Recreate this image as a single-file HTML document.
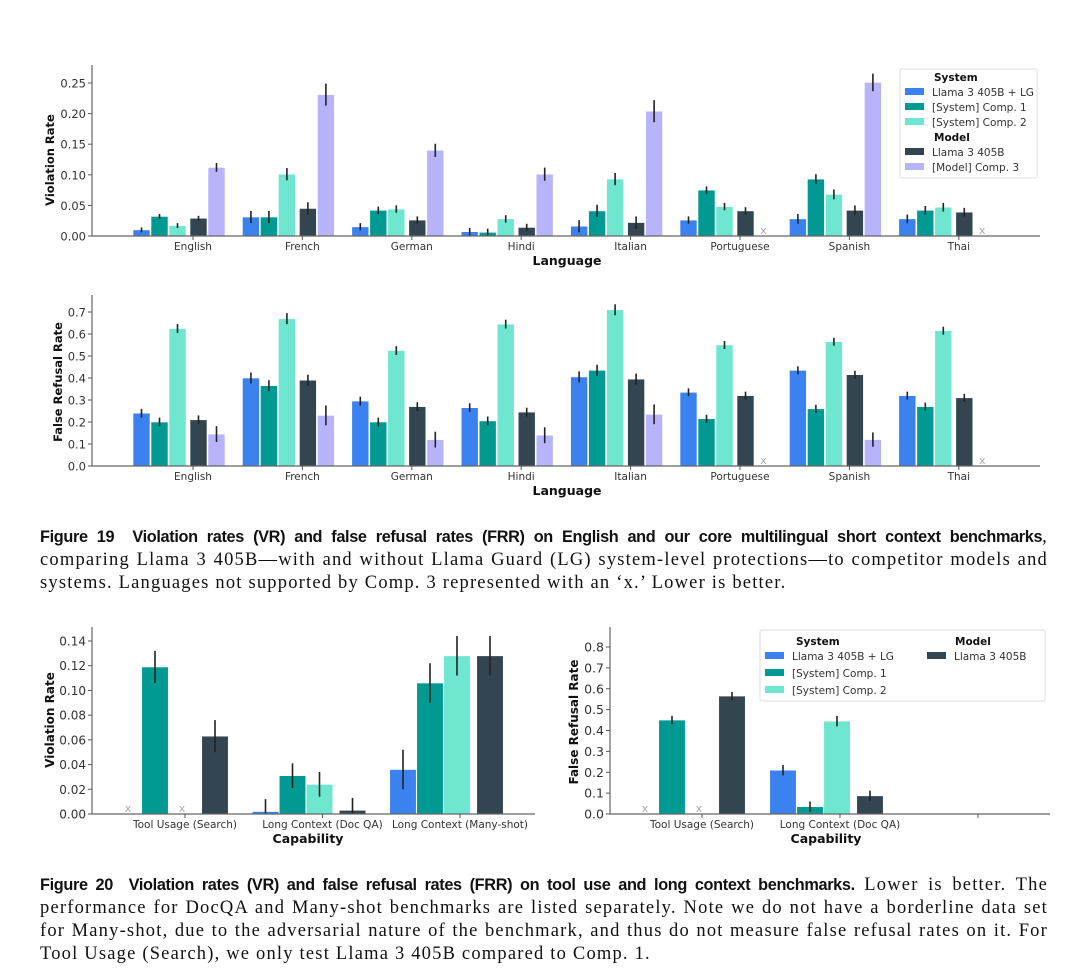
<!DOCTYPE html>
<html><head><meta charset="utf-8">
<style>
html,body{margin:0;padding:0;background:#fff;}
body{width:1080px;height:979px;position:relative;overflow:hidden;}
svg{position:absolute;left:0;top:0;}
.cap{position:absolute;left:40px;width:1008px;font-family:"Liberation Serif",serif;font-size:18.5px;line-height:23px;color:#111;letter-spacing:1.2px;}
.cap div{text-align:justify;text-align-last:justify;white-space:nowrap;overflow:visible;}
.cap div.last{text-align-last:left;}
.cap b{font-family:"Liberation Sans",sans-serif;font-size:16.3px;letter-spacing:-0.35px;}
</style></head>
<body>
<svg id="chart" width="1080" height="979"></svg>
<div class="cap" style="top:526px">
<div><b>Figure 19&nbsp; Violation rates (VR) and false refusal rates (FRR) on English and our core multilingual short context benchmarks</b>,</div>
<div>comparing Llama 3 405B—with and without Llama Guard (LG) system-level protections—to competitor models and</div>
<div class="last">systems. Languages not supported by Comp. 3 represented with an ‘x.’ Lower is better.</div>
</div>
<div class="cap" style="top:874px">
<div><b>Figure 20&nbsp; Violation rates (VR) and false refusal rates (FRR) on tool use and long context benchmarks.</b> Lower is better. The</div>
<div>performance for DocQA and Many-shot benchmarks are listed separately. Note we do not have a borderline data set</div>
<div>for Many-shot, due to the adversarial nature of the benchmark, and thus do not measure false refusal rates on it. For</div>
<div class="last">Tool Usage (Search), we only test Llama 3 405B compared to Comp. 1.</div>
</div>
<script>
const languages=["English","French","German","Hindi","Italian","Portuguese","Spanish","Thai"];
const seriesNames=["Llama 3 405B + LG","[System] Comp. 1","[System] Comp. 2","Llama 3 405B","[Model] Comp. 3"];
const colors=["#3b82f0","#009a93","#6ee6d0","#334550","#b8b4fc"];
const vrLG=[0.010,0.031,0.015,0.007,0.016,0.026,0.028,0.028];
const vrC1=[0.032,0.031,0.042,0.006,0.041,0.075,0.093,0.042];
const vrC2=[0.017,0.101,0.044,0.028,0.093,0.048,0.068,0.047];
const vrL3=[0.029,0.045,0.026,0.014,0.022,0.041,0.042,0.039];
const vrC3=[0.112,0.231,0.140,0.101,0.204,null,0.251,null];
const vrErr=[0.004,0.010,0.006,0.006,0.010,0.006,0.008,0.007];
const frrLG=[0.24,0.40,0.295,0.265,0.405,0.335,0.435,0.32];
const frrC1=[0.20,0.365,0.20,0.205,0.435,0.215,0.26,0.27];
const frrC2=[0.625,0.67,0.525,0.645,0.71,0.55,0.565,0.615];
const frrL3=[0.21,0.39,0.27,0.245,0.395,0.32,0.415,0.31];
const frrC3=[0.145,0.23,0.12,0.14,0.235,null,0.12,null];
const frrErr=[0.02,0.025,0.02,0.02,0.025,0.018,0.018,0.018];
const vrTicks=["0.00","0.05","0.10","0.15","0.20","0.25"];
const frrTicks=["0.0","0.1","0.2","0.3","0.4","0.5","0.6","0.7"];
const capabilities=["Tool Usage (Search)","Long Context (Doc QA)","Long Context (Many-shot)"];
const capVrLG=[null,0.002,0.036];
const capVrC1=[0.119,0.031,0.106];
const capVrC2=[null,0.024,0.128];
const capVrL3=[0.063,0.003,0.128];
const capVrErr=[0.013,0.01,0.016];
const capFrrCats=["Tool Usage (Search)","Long Context (Doc QA)",""];
const capFrrLG=[null,0.21,null];
const capFrrC1=[0.45,0.035,null];
const capFrrC2=[null,0.445,null];
const capFrrL3=[0.565,0.087,null];
const capFrrErr=[0.02,0.025,0];
const capVrTicks=["0.00","0.02","0.04","0.06","0.08","0.10","0.12","0.14"];
const capFrrTicks=["0.0","0.1","0.2","0.3","0.4","0.5","0.6","0.7","0.8"];

const NS="http://www.w3.org/2000/svg";
const svg=document.getElementById('chart');
function mk(tag,attrs,parent,text){const e=document.createElementNS(NS,tag);for(const k in attrs)e.setAttribute(k,attrs[k]);if(text!==undefined)e.textContent=text;(parent||svg).appendChild(e);return e;}

function chart(c){
  const g=mk('g',{});
  
  
  const y=v=>c.y0-(v/c.vmax)*(c.y0-c.yTop);
  const x=i=>c.x0+i*c.step;
  c.ticks.forEach(t=>{const v=parseFloat(t);const yy=y(v);
    mk('line',{x1:c.left-4,x2:c.left,y1:yy,y2:yy,stroke:'#555','stroke-width':1},g);
    const tx=mk('text',{x:c.left-6,y:yy+4.5,'text-anchor':'end','font-size':c.fs,fill:'#333','font-family':'DejaVu Sans, sans-serif'},g,t);
    
    
  });
  c.series.forEach((vals,s)=>{vals.forEach((v,i)=>{
    const cx=x(i)+c.offs[s];
    if(v===null){
      if(c.xmark&&c.xmark[s]&&c.cats[i]!==''){const xm=mk('text',{x:cx,y:c.y0-2,'text-anchor':'middle','font-size':11,fill:'#aaa','font-family':'DejaVu Sans, sans-serif'},g,'x');
        
        }
      return;}
    const r=mk('rect',{x:cx-c.bw/2,y:y(v),width:c.bw,height:c.y0-y(v),fill:colors[s],stroke:'#fff','stroke-width':0.6},g);
    
    
    const e=c.err[i]*(s===4?1.8:1);
    mk('line',{x1:cx,x2:cx,y1:y(v+e),y2:Math.min(c.y0,y(Math.max(0,v-e))),stroke:'#222','stroke-width':1.6},g);
  });});
  mk('line',{x1:c.left,x2:c.left,y1:c.axTop,y2:c.y0,stroke:'#666','stroke-width':1.2},g);
  mk('line',{x1:c.left,x2:c.right,y1:c.y0,y2:c.y0,stroke:'#666','stroke-width':1.2},g);
  c.cats.forEach((cat,i)=>{
    mk('line',{x1:x(i),x2:x(i),y1:c.y0,y2:c.y0+4,stroke:'#555'},g);
    const t=mk('text',{x:x(i),y:c.y0+14,'text-anchor':'middle','font-size':c.xfs,fill:'#333','font-family':'DejaVu Sans, sans-serif'},g,cat);
    
    
  });
  const xt=mk('text',{x:c.xlx,y:c.xly,'text-anchor':'middle','font-size':12.5,'font-weight':'bold',fill:'#111','font-family':'DejaVu Sans, sans-serif'},g,c.xlabel);
  
  
  const yt=mk('text',{x:0,y:0,'text-anchor':'middle','font-size':c.yfs,'font-weight':'bold',fill:'#111','font-family':'DejaVu Sans, sans-serif',transform:`translate(${c.ylx},${c.yly}) rotate(-90)`},g,c.ylabel);
  
  
}
const langOffs=[-51.5,-33.5,-15.5,5.5,23.5];
chart({name:'vr-language-chart',left:92,right:1040,axTop:65,y0:236,yTop:83,vmax:0.25,x0:193,step:109.4,bw:17,offs:langOffs,
  series:[vrLG,vrC1,vrC2,vrL3,vrC3],err:vrErr,cats:languages,ticks:vrTicks,xmark:[0,0,0,0,1],fs:11.5,xfs:10.5,yfs:11.5,
  xlabel:'Language',xlx:567,xly:265,ylabel:'Violation Rate',ylx:54,yly:160});
chart({name:'frr-language-chart',left:92,right:1040,axTop:295,y0:466,yTop:312,vmax:0.7,x0:193,step:109.4,bw:17,offs:langOffs,
  series:[frrLG,frrC1,frrC2,frrL3,frrC3],err:frrErr,cats:languages,ticks:frrTicks,xmark:[0,0,0,0,1],fs:11.5,xfs:10.5,yfs:11.5,
  xlabel:'Language',xlx:567,xly:495,ylabel:'False Refusal Rate',ylx:62,yly:382});
const capOffs=[-57,-30,-3,30];
chart({name:'vr-capability-chart',left:92,right:535,axTop:627,y0:814,yTop:641,vmax:0.14,x0:185,step:137.5,bw:26.5,offs:capOffs,
  series:[capVrLG,capVrC1,capVrC2,capVrL3],err:capVrErr,cats:capabilities,ticks:capVrTicks,xmark:[1,0,1,0],fs:12,xfs:10.5,yfs:12,
  xlabel:'Capability',xlx:308,xly:843,ylabel:'Violation Rate',ylx:54,yly:720});
chart({name:'frr-capability-chart',left:610,right:1050,axTop:627,y0:814,yTop:647,vmax:0.8,x0:702,step:138,bw:26.5,offs:capOffs,
  series:[capFrrLG,capFrrC1,capFrrC2,capFrrL3],err:capFrrErr,cats:capFrrCats,ticks:capFrrTicks,xmark:[1,0,1,0],fs:12.5,xfs:10.5,yfs:12,
  xlabel:'Capability',xlx:826,xly:843,ylabel:'False Refusal Rate',ylx:578,yly:722});

function legendItem(px,py,col,label,g){
  mk('rect',{x:px,y:py-5,width:19,height:7,fill:col},g);
  const t=mk('text',{x:px+27,y:py+3,'font-size':10.5,fill:'#333','font-family':'DejaVu Sans, sans-serif'},g,label);
  
  
}
const lg1=mk('g',{});


mk('rect',{x:900,y:69,width:137,height:109,fill:'#fff',stroke:'#ddd',rx:2},lg1);
mk('text',{x:934,y:81,'font-size':10.5,'font-weight':'bold',fill:'#111','font-family':'DejaVu Sans, sans-serif'},lg1,'System');
legendItem(905,93,colors[0],seriesNames[0],lg1);
legendItem(905,108,colors[1],seriesNames[1],lg1);
legendItem(905,123,colors[2],seriesNames[2],lg1);
mk('text',{x:934,y:141,'font-size':10.5,'font-weight':'bold',fill:'#111','font-family':'DejaVu Sans, sans-serif'},lg1,'Model');
legendItem(905,153,colors[3],seriesNames[3],lg1);
legendItem(905,168,colors[4],seriesNames[4],lg1);
const lg2=mk('g',{});


mk('rect',{x:760,y:630,width:285,height:71,fill:'#fff',stroke:'#ddd',rx:2},lg2);
mk('text',{x:796,y:645,'font-size':10.5,'font-weight':'bold',fill:'#111','font-family':'DejaVu Sans, sans-serif'},lg2,'System');
mk('text',{x:955,y:645,'font-size':10.5,'font-weight':'bold',fill:'#111','font-family':'DejaVu Sans, sans-serif'},lg2,'Model');
legendItem(765,657,colors[0],seriesNames[0],lg2);
legendItem(765,674,colors[1],seriesNames[1],lg2);
legendItem(765,691,colors[2],seriesNames[2],lg2);
legendItem(927,657,colors[3],seriesNames[3],lg2);
</script>
</body></html>
